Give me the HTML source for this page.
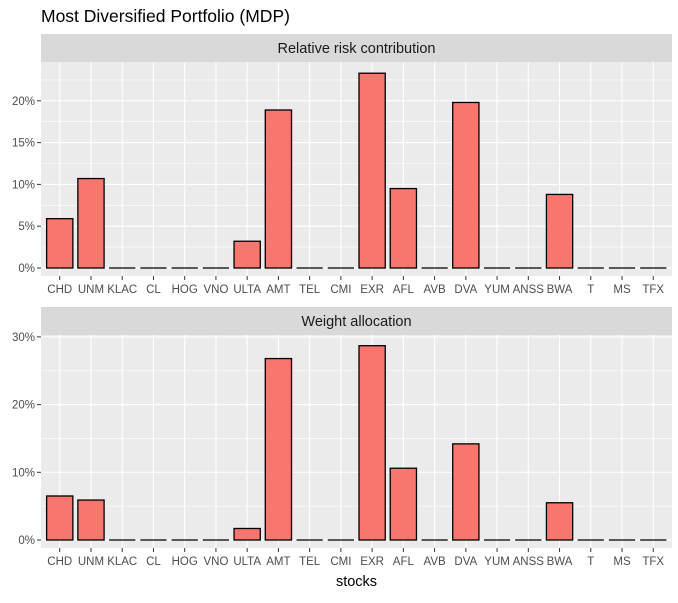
<!DOCTYPE html>
<html><head><meta charset="utf-8"><style>
body{margin:0;background:#fff;width:678px;height:598px;overflow:hidden;font-family:"Liberation Sans",sans-serif}
</style></head><body>
<svg id="chart" width="678" height="598" xmlns="http://www.w3.org/2000/svg">
<rect width="678" height="598" fill="#fff"/>
<text x="41" y="22" font-size="17.5" fill="#000">Most Diversified Portfolio (MDP)</text>
</svg>
<script>
const categories=["CHD","UNM","KLAC","CL","HOG","VNO","ULTA","AMT","TEL","CMI","EXR","AFL","AVB","DVA","YUM","ANSS","BWA","T","MS","TFX"];
const riskValues=[5.9,10.7,0,0,0,0,3.2,18.9,0,0,23.3,9.5,0,19.8,0,0,8.8,0,0,0];
const weightValues=[6.5,5.9,0,0,0,0,1.7,26.8,0,0,28.7,10.6,0,14.2,0,0,5.5,0,0,0];
const riskTicks=[0,5,10,15,20];
const weightTicks=[0,10,20,30];
const riskMinor=[2.5,7.5,12.5,17.5,22.5];
const weightMinor=[5,15,25];

const svg=document.getElementById('chart');
const NS='http://www.w3.org/2000/svg';
function mk(tag,attrs,parent){const e=document.createElementNS(NS,tag);for(const k in attrs)e.setAttribute(k,attrs[k]);(parent||svg).appendChild(e);return e;}
const PX0=41,PX1=672;
const step=(PX1-PX0)/(categories.length-1+1.2);
function xScale(i){return PX0+step*(0.6+i);}

function panel(cfg){
  const g=mk('g',{});
  
  
  const strip=mk('rect',{x:PX0,y:cfg.stripTop,width:PX1-PX0,height:cfg.top-cfg.stripTop,fill:'#d9d9d9'},g);
  
  
  const st=mk('text',{x:(PX0+PX1)/2,y:(cfg.stripTop+cfg.top)/2+5,'text-anchor':'middle','font-size':'14.5',fill:'#1a1a1a'},g);
  st.textContent=cfg.title;
  
  
  mk('rect',{x:PX0,y:cfg.top,width:PX1-PX0,height:cfg.bottom-cfg.top,fill:'#ebebeb'},g);
  const y=v=>cfg.zeroY-v*cfg.pxPer;
  cfg.minor.forEach(v=>mk('line',{x1:PX0,x2:PX1,y1:y(v),y2:y(v),stroke:'#fff','stroke-width':0.6},g));
  cfg.ticks.forEach(v=>{
    mk('line',{x1:PX0,x2:PX1,y1:y(v),y2:y(v),stroke:'#fff','stroke-width':1.1},g);
    mk('line',{x1:PX0-4,x2:PX0,y1:y(v),y2:y(v),stroke:'#333','stroke-width':1},g);
    const t=mk('text',{x:PX0-6,y:y(v)+4,'text-anchor':'end','font-size':'11.5',fill:'#4d4d4d'},g);
    t.textContent=v+'%';
    
    
  });
  categories.forEach((c,i)=>{
    const x=xScale(i);
    mk('line',{x1:x,x2:x,y1:cfg.top,y2:cfg.bottom,stroke:'#fff','stroke-width':1.1},g);
    mk('line',{x1:x,x2:x,y1:cfg.bottom,y2:cfg.bottom+4,stroke:'#333','stroke-width':1},g);
    const t=mk('text',{x:x,y:cfg.bottom+17,'text-anchor':'middle','font-size':'11.5',fill:'#4d4d4d',textLength:'',}, g);
    t.removeAttribute('textLength');
    t.textContent=c;
    
    
  });
  cfg.values.forEach((v,i)=>{
    const w=step*0.84,x=xScale(i)-w/2;
    let r;
    if(v>0){
      r=mk('rect',{x:x,y:y(v),width:w,height:cfg.zeroY-y(v),fill:'#f8766d',stroke:'#000','stroke-width':1.3},g);
    }else{
      r=mk('line',{x1:x,x2:x+w,y1:cfg.zeroY,y2:cfg.zeroY,stroke:'#000','stroke-width':1.3},g);
    }
    
    
  });
}
panel({name:'risk-panel',title:'Relative risk contribution',stripTop:34,top:62,bottom:276,zeroY:268,pxPer:8.36,ticks:riskTicks,minor:riskMinor,values:riskValues});
panel({name:'weight-panel',title:'Weight allocation',stripTop:307,top:335,bottom:548,zeroY:540,pxPer:6.77,ticks:weightTicks,minor:weightMinor,values:weightValues});
const xt=mk('text',{x:(PX0+PX1)/2,y:586,'text-anchor':'middle','font-size':'14.5',fill:'#000'});
xt.textContent='stocks';


</script>
</body></html>
